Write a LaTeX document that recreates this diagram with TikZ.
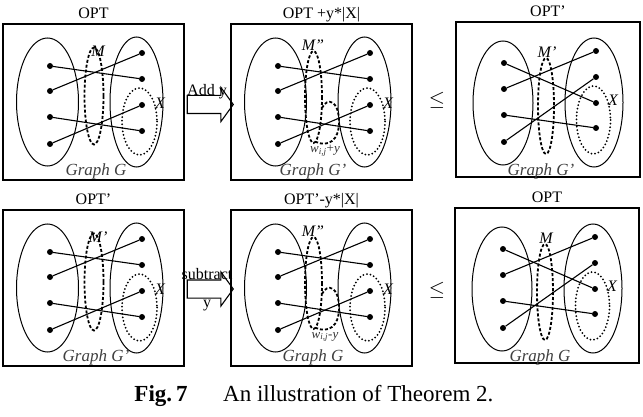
\documentclass[tikz,border=0pt]{standalone}
\usepackage{fontspec}
\setmainfont{Liberation Serif}
\usetikzlibrary{shapes.arrows, positioning}
\tikzset{
    panel/.style={rectangle, draw=black, line width=1.3pt, minimum width=181pt, minimum height=156pt, inner sep=0pt},
    title/.style={font=\fontsize{16}{18}\selectfont, inner sep=0pt, text height=11pt, text depth=0.5pt},
    side/.style={line width=1pt},
    mset/.style={line width=1.8pt, dash pattern=on 3pt off 2pt},
    xset/.style={line width=2pt, line cap=round, dash pattern=on 0pt off 3.6pt},
    vertex/.style={circle, fill=black, minimum size=6pt, inner sep=0pt},
    link/.style={line width=1.1pt},
    lab/.style={font=\fontsize{16}{18}\selectfont\itshape, inner sep=0pt},
    glab/.style={font=\fontsize{17}{19}\selectfont\itshape, text=black!75, inner sep=0pt},
    wlab/.style={font=\fontsize{13}{15}\selectfont, text=black!80, inner sep=0pt},
    note/.style={font=\fontsize{16}{18}\selectfont, inner sep=0pt},
    blockarrow/.style={single arrow, draw=black, line width=1.1pt, minimum height=46pt, inner xsep=0pt, inner ysep=8.5pt, single arrow head extend=8pt, single arrow tip angle=108},
    caption/.style={font=\fontsize{23}{26}\selectfont, inner sep=0pt}
}

\begin{document}
\begin{tikzpicture}[x=1pt, y=-1pt]
    \useasboundingbox (0,0) rectangle (643,417);

    % left column: OPT and OPT'
    \foreach \dy/\opt/\mlab/\glab [count=\n] in {0/OPT/M/G, 186/OPT'/M'/G'} {
        \begin{scope}[shift={(0,\dy)}]
            \node (a\n) [panel] at (93.5,102) {};
            \node [title, above=4.5pt of a\n] {\opt};
            \draw [side] (47.5,102) ellipse [x radius=31, y radius=64];
            \draw [side] (136.5,102) ellipse [x radius=26.5, y radius=65];
            \draw [mset] (94,96) ellipse [x radius=9.5, y radius=48.5];
            \draw [xset] (139.5,121.5) ellipse [x radius=17.5, y radius=33.5];
            \foreach \y [count=\k] in {66,91,117,144}
                \node (a\n l\k) [vertex] at (50,\y) {};
            \foreach \y [count=\k] in {53,79,105,131}
                \node (a\n r\k) [vertex] at (142,\y) {};
            \foreach \p/\q in {1/2, 2/1, 3/4, 4/3}
                \draw [link] (a\n l\p) -- (a\n r\q);
            \node [lab] at (98,51) {\mlab};
            \node [lab] at (160,103) {X};
            \node [glab] at (96,171) {Graph \glab};
        \end{scope}
    }

    % middle column: modified weights
    \foreach \dy/\opt/\wlab/\glab [count=\n] in {0/OPT +y*|X|/{\textit{w}\textsubscript{\textit{i,j}}+\textit{y}}/G', 186/OPT'-y*|X|/{\textit{w}\textsubscript{\textit{i,j}}-\textit{y}}/G} {
        \begin{scope}[shift={(0,\dy)}]
            \node (b\n) [panel] at (321.5,102) {};
            \node [title, above=4.5pt of b\n] {\opt};
            \draw [side] (275.5,102) ellipse [x radius=31, y radius=64];
            \draw [side] (364.5,102) ellipse [x radius=26.5, y radius=65];
            \draw [mset] (313.5,97) ellipse [x radius=8.5, y radius=46];
            \draw [mset] (322,108) .. controls (327,97) and (339,100) .. (339,122)
                .. controls (339,141) and (328,147) .. (316,142);
            \draw [xset] (367.5,121.5) ellipse [x radius=17.5, y radius=33.5];
            \foreach \y [count=\k] in {66,91,117,144}
                \node (b\n l\k) [vertex] at (278,\y) {};
            \foreach \y [count=\k] in {53,79,105,131}
                \node (b\n r\k) [vertex] at (370,\y) {};
            \foreach \p/\q in {1/2, 2/1, 3/4, 4/3}
                \draw [link] (b\n l\p) -- (b\n r\q);
            \node [lab] at (313,45) {M''};
            \node [lab] at (388,103) {X};
            \node [wlab] at (325,151) {\wlab};
            \node [glab] at (313,171) {Graph \glab};
        \end{scope}
    }

    % right column: OPT' and OPT
    \foreach \dx/\dy/\opt/\mlab/\glab [count=\n] in {0/0/OPT'/M'/G', -1/186/OPT/M/G} {
        \begin{scope}[shift={(\dx,\dy)}]
            \node (c\n) [panel, minimum width=184pt, minimum height=155pt] at (548,99.5) {};
            \node [title, above=4.5pt of c\n] {\opt};
            \draw [side] (503,103) ellipse [x radius=30, y radius=62];
            \draw [side] (594,102.5) ellipse [x radius=29, y radius=64.5];
            \draw [mset] (546,106) ellipse [x radius=8, y radius=48];
            \draw [xset] (593.5,120) ellipse [x radius=17, y radius=34];
            \foreach \y [count=\k] in {63,89,115,142}
                \node (c\n l\k) [vertex] at (504,\y) {};
            \foreach \y [count=\k] in {51,77,103,128}
                \node (c\n r\k) [vertex] at (596,\y) {};
            \foreach \p/\q in {1/3, 2/1, 3/4, 4/2}
                \draw [link] (c\n l\p) -- (c\n r\q);
            \node [lab] at (547,52) {\mlab};
            \node [lab] at (613,100) {X};
            \node [glab] at (541,171) {Graph \glab};
        \end{scope}
    }

    % arrows and relations
    \node (addy) [blockarrow] at (207,104.5) {};
    \node [note, above=-4.5pt of addy] {Add y};
    \node (suby) [blockarrow] at (207,289) {};
    \node [note, above=0pt of suby] {subtract};
    \node [note, below=1pt of suby] {y};
    \node (le1) [note, font=\fontsize{20}{22}\selectfont] at (437,100) {$\leq$};
    \node (le2) [note, font=\fontsize{20}{22}\selectfont] at (437,290) {$\leq$};

    % caption
    \node (fig) [caption, font=\fontsize{23}{26}\selectfont\bfseries, anchor=base] at (161,401) {Fig.\,7};
    \node (figtext) [caption, anchor=base west] at (223,401) {An illustration of Theorem 2.};
\end{tikzpicture}
\end{document}
